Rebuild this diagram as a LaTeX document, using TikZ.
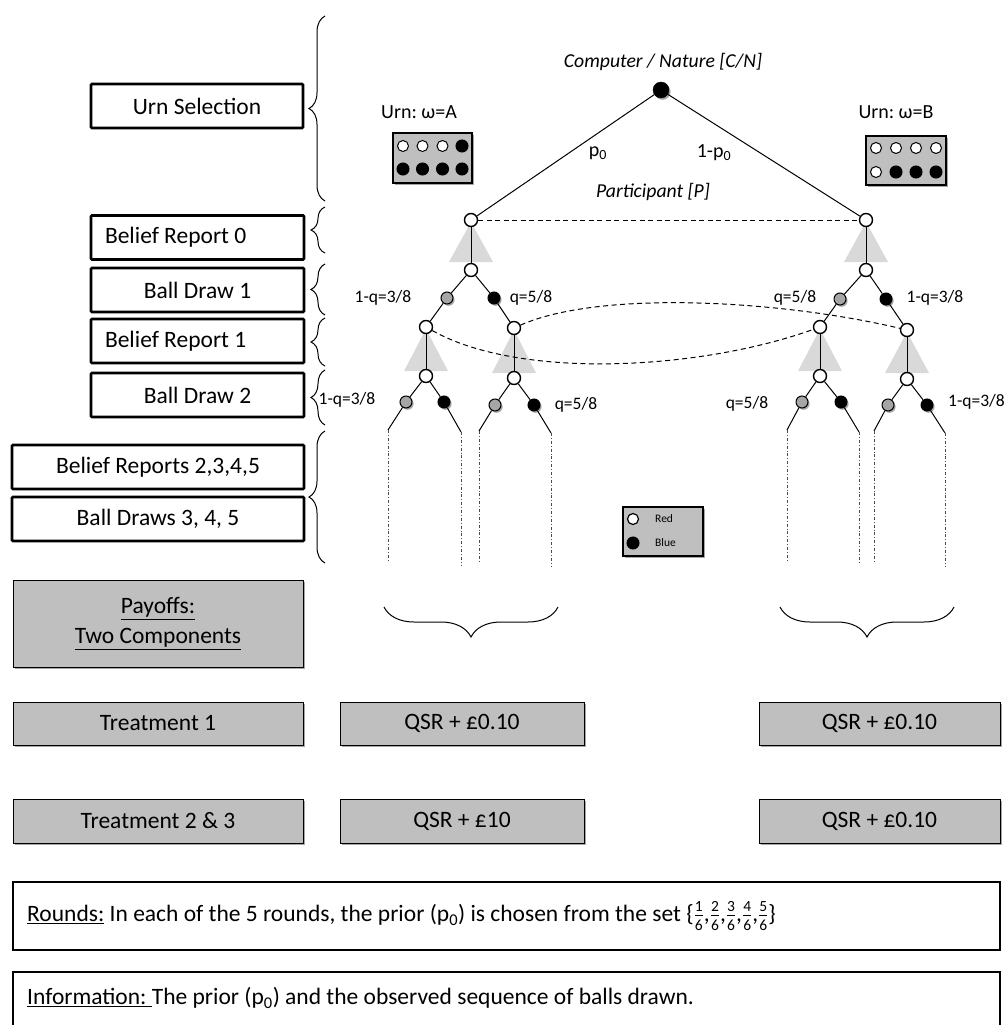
\documentclass[tikz,border=0pt]{standalone}
\usepackage{fontspec}
\setmainfont{Carlito}
\usetikzlibrary{shadows,decorations.pathreplacing}
\definecolor{boxgray}{RGB}{191,191,191}
\definecolor{trigray}{RGB}{217,217,217}
\definecolor{ballgray}{RGB}{166,166,166}
\newcommand\stagefont{\fontsize{23.5pt}{28pt}\selectfont}
\newcommand\labfont{\fontsize{17.5pt}{21pt}\selectfont}
\newcommand\itfont{\fontsize{19.7pt}{24pt}\selectfont\itshape}
\newcommand\urnfont{\fontsize{20pt}{24pt}\selectfont}
\newcommand\legfont{\fontsize{11.5pt}{14pt}\selectfont}
\newcommand\fracdig[1]{\hbox{\fontsize{15.5pt}{15.5pt}\selectfont #1}}
\newcommand\sixth[1]{$\frac{\fracdig{#1}}{\fracdig{6}}$}
\frenchspacing
\begin{document}
\begin{tikzpicture}[x=1pt,y=-1pt,
  shad/.style={drop shadow={shadow xshift=1.6pt,shadow yshift=-1.8pt,opacity=0.35,fill=black}},
  stagebox/.style={draw,line width=2.6pt,fill=white,rounded corners=1pt,font=\stagefont,inner sep=0pt,minimum height=44pt},
  graybox/.style={draw,line width=1pt,fill=boxgray,font=\stagefont,inner sep=0pt,shad},
  wide/.style={draw,line width=2.6pt,fill=white,inner sep=0pt,minimum width=987pt},
  pnode/.style={circle,draw,fill=white,line width=1.4pt,minimum size=13pt,inner sep=0pt},
  cnode/.style={circle,fill=black,draw,minimum size=16pt,inner sep=0pt,shad},
  rball/.style={circle,draw,fill=ballgray,line width=1pt,minimum size=12pt,inner sep=0pt,shad},
  bball/.style={circle,draw,fill=black,line width=1pt,minimum size=12pt,inner sep=0pt,shad},
  edge/.style={line width=1pt},
  infoset/.style={line width=1pt,dash pattern=on 5pt off 3.5pt},
  cont/.style={line width=0.7pt,black!70,dash pattern=on 3pt off 2pt on 0.8pt off 2pt},
  brc/.style={decorate,decoration={brace,amplitude=#1},line width=1pt},
  lab/.style={font=\labfont,inner sep=0pt},
  tri/.style={fill=trigray}]
\useasboundingbox (0,0) rectangle (1004,1025);

% ---------- left stage boxes ----------
\node[stagebox,minimum width=212pt] (us) at (197,106) {Urn Selection};
\node[stagebox,text width=185pt,inner xsep=14pt,align=left] (br0) at (197.5,237.5) {\spaceskip=0pt\xspaceskip=0pt Belief Report 0};
\node[stagebox,minimum width=213pt] (bd1) at (197.5,290) {Ball Draw 1};
\node[stagebox,text width=185pt,inner xsep=14pt,align=left] (br1) at (197.5,341) {\spaceskip=0pt\xspaceskip=0pt Belief Report 1};
\node[stagebox,minimum width=213pt] (bd2) at (197.5,395) {Ball Draw 2};
\node[stagebox,minimum width=292pt] (br25) at (158,467) {Belief Reports 2,3,4,5};
\node[stagebox,minimum width=292pt] (bd35) at (158,519) {Ball Draws 3, 4, 5};
\node[graybox,minimum width=290pt,minimum height=87pt,align=center] (pay) at (158,623.5) {\spaceskip=0pt\xspaceskip=0pt\underline{Payoffs:}\\[2pt]\underline{Two Components}};

% ---------- braces ----------
\draw[brc=16pt] (325,201) -- (325,16);
\draw[brc=14pt] (325,253) -- (325,207);
\draw[brc=14pt] (325,315) -- (325,264);
\draw[brc=14pt] (325,366) -- (325,318);
\draw[brc=14pt] (325,425) -- (325,370);
\draw[brc=16pt] (325,563) -- (325,431);
\draw[brc=30pt] (558,607) -- (384,607);
\draw[brc=30pt] (954,607) -- (780,607);

% ---------- triangles ----------
\fill[tri] (471,222) -- (449,262) -- (493,262) -- cycle;
\fill[tri] (866,222) -- (844,262) -- (888,262) -- cycle;
\fill[tri] (426,329) -- (404,371) -- (448,371) -- cycle;
\fill[tri] (514,330) -- (492,373) -- (536,373) -- cycle;
\fill[tri] (820,329) -- (798,371) -- (842,371) -- cycle;
\fill[tri] (907,332) -- (885,373) -- (929,373) -- cycle;

% ---------- tree nodes ----------
\node[cnode] (root) at (661,90) {};
\node[pnode] (PA) at (471,220) {};
\node[pnode] (PB) at (866,220) {};
% left tree
\node[pnode] (A1) at (471,270) {};
\node[rball] (Ar1) at (447,298) {};
\node[bball] (Ab1) at (494,298) {};
\node[pnode] (PAL) at (426,327) {};
\node[pnode] (PAR) at (514,328) {};
\node[pnode] (AL2) at (426,376) {};
\node[pnode] (AR2) at (514,378) {};
\node[rball] (ALr) at (406,402) {};
\node[bball] (ALb) at (444,402) {};
\node[rball] (ARr) at (495,405) {};
\node[bball] (ARb) at (534,405) {};
% right tree
\node[pnode] (B1) at (866,270) {};
\node[rball] (Br1) at (840,299) {};
\node[bball] (Bb1) at (886,299) {};
\node[pnode] (PBL) at (820,327) {};
\node[pnode] (PBR) at (907,330) {};
\node[pnode] (BL2) at (820,376) {};
\node[pnode] (BR2) at (907,379) {};
\node[rball] (BLr) at (802,402) {};
\node[bball] (BLb) at (841,402) {};
\node[rball] (BRr) at (888,405) {};
\node[bball] (BRb) at (927,405) {};

% continuation coordinates
\coordinate (e1) at (388,430); \coordinate (f1) at (388,562);
\coordinate (e2) at (461,432); \coordinate (f2) at (461,565);
\coordinate (e3) at (479,431); \coordinate (f3) at (479,563);
\coordinate (e4) at (551,433); \coordinate (f4) at (551,567);
\coordinate (e5) at (787,430); \coordinate (f5) at (787,560);
\coordinate (e6) at (859,432); \coordinate (f6) at (859,564);
\coordinate (e7) at (874,431); \coordinate (f7) at (874,562);
\coordinate (e8) at (945,433); \coordinate (f8) at (945,566);

% ---------- edges ----------
\draw[edge] (root) -- (PA);
\draw[edge] (root) -- (PB);
\draw[edge] (PA) -- (A1);
\draw[edge] (A1) -- (Ar1); \draw[edge] (A1) -- (Ab1);
\draw[edge] (Ar1) -- (PAL); \draw[edge] (Ab1) -- (PAR);
\draw[edge] (PAL) -- (AL2); \draw[edge] (PAR) -- (AR2);
\draw[edge] (AL2) -- (ALr); \draw[edge] (AL2) -- (ALb);
\draw[edge] (AR2) -- (ARr); \draw[edge] (AR2) -- (ARb);
\draw[edge] (ALr) -- (e1); \draw[edge] (ALb) -- (e2);
\draw[edge] (ARr) -- (e3); \draw[edge] (ARb) -- (e4);
\draw[edge] (PB) -- (B1);
\draw[edge] (B1) -- (Br1); \draw[edge] (B1) -- (Bb1);
\draw[edge] (Br1) -- (PBL); \draw[edge] (Bb1) -- (PBR);
\draw[edge] (PBL) -- (BL2); \draw[edge] (PBR) -- (BR2);
\draw[edge] (BL2) -- (BLr); \draw[edge] (BL2) -- (BLb);
\draw[edge] (BR2) -- (BRr); \draw[edge] (BR2) -- (BRb);
\draw[edge] (BLr) -- (e5); \draw[edge] (BLb) -- (e6);
\draw[edge] (BRr) -- (e7); \draw[edge] (BRb) -- (e8);
\foreach \i in {1,...,8} {\draw[cont] (e\i) -- (f\i);}

% information sets
\draw[infoset] (PA) -- (PB);
\draw[infoset] (PAR) .. controls (600,290) and (780,300) .. (PBR);
\draw[infoset] (PAL) .. controls (520,380) and (700,370) .. (PBL);

% ---------- tree labels ----------
\node[font=\itfont,inner sep=0pt] (cn) at (663,62) {Computer / Nature [C/N]};
\node[font=\urnfont,inner sep=0pt] (p0) at (598,153) {p\textsubscript{0}};
\node[font=\urnfont,inner sep=0pt] (p1) at (714,153) {1-p\textsubscript{0}};
\node[font=\itfont,inner sep=0pt] (pp) at (653,192) {Participant [P]};
\node[lab] (l1) at (383,298) {1-q=3/8};
\node[lab] (l2) at (531,298) {q=5/8};
\node[lab] (l3) at (795,298) {q=5/8};
\node[lab] (l4) at (935,298) {1-q=3/8};
\node[lab] (l5) at (347,400) {1-q=3/8};
\node[lab] (l6) at (576,405) {q=5/8};
\node[lab] (l7) at (747,404) {q=5/8};
\node[lab,anchor=west] (l8) at (948,402) {1-q=3/8};

% ---------- urns ----------
\node[font=\urnfont,inner sep=0pt] (uA) at (419,112) {Urn: ω=A};
\node[font=\urnfont,inner sep=0pt] (uB) at (896,112) {Urn: ω=B};
\node[draw,line width=1.2pt,fill=boxgray,minimum width=79pt,minimum height=50pt,inner sep=0pt,shad] (urnA) at (432.5,158) {};
\node[draw,line width=1.2pt,fill=boxgray,minimum width=80pt,minimum height=49pt,inner sep=0pt,shad] (urnB) at (906,160.5) {};
% urn A balls
\foreach \x in {403,422.5,442.5} {\draw[line width=1pt,fill=white] (\x,146) circle (5.5pt);}
\foreach \x/\y in {462/146,403/169,422.5/169,442.5/169,462/169} {\draw[line width=1pt,fill=black] (\x,\y) circle (6pt);}
% urn B balls
\foreach \x/\y in {876/148,896/148,916/148,936/148,876/172} {\draw[line width=1pt,fill=white] (\x,\y) circle (5.5pt);}
\foreach \x in {896,916,936} {\draw[line width=1pt,fill=black] (\x,172) circle (6pt);}

% ---------- legend ----------
\node[draw,line width=1.2pt,fill=boxgray,minimum width=80pt,minimum height=49pt,inner sep=0pt,shad] (leg) at (663,531.5) {};
\draw[line width=1.2pt,fill=white] (633,519) circle (5.5pt);
\draw[line width=1pt,fill=black] (633,543) circle (6pt);
\node[font=\legfont,anchor=west,inner sep=0pt] (lr) at (655,519) {Red};
\node[font=\legfont,anchor=west,inner sep=0pt] (lb) at (655,543) {Blue};

% ---------- payoff boxes ----------
\node[graybox,minimum width=290pt,minimum height=43pt] (t1) at (158,723.5) {Treatment 1};
\node[graybox,minimum width=244pt,minimum height=43pt] (q1) at (462,723.5) {QSR + £0.10};
\node[graybox,minimum width=241pt,minimum height=43pt] (q1r) at (879.5,723.5) {QSR + £0.10};
\node[graybox,minimum width=290pt,minimum height=44pt] (t23) at (158,821) {Treatment 2 \& 3};
\node[graybox,minimum width=244pt,minimum height=44pt] (q2) at (462,821) {QSR + £10};
\node[graybox,minimum width=241pt,minimum height=44pt] (q2r) at (879.5,821) {QSR + £0.10};

% ---------- bottom boxes ----------
\node[wide,minimum height=68pt] (rounds) at (506.5,916) {};
\node[font=\stagefont,anchor=west,inner sep=0pt] (rt) at (27,916) {\underline{Rounds:} In each of the 5 rounds, the prior (p\textsubscript{0}) is chosen from the set \{\sixth{1},\sixth{2},\sixth{3},\sixth{4},\sixth{5}\}};
\node[wide,minimum height=66pt] (info) at (506.5,1005) {};
\node[font=\stagefont,anchor=west,inner sep=0pt] (it) at (27,998) {\underline{Information:\ }The prior (p\textsubscript{0}) and the observed sequence of balls drawn.};
\end{tikzpicture}
\end{document}
